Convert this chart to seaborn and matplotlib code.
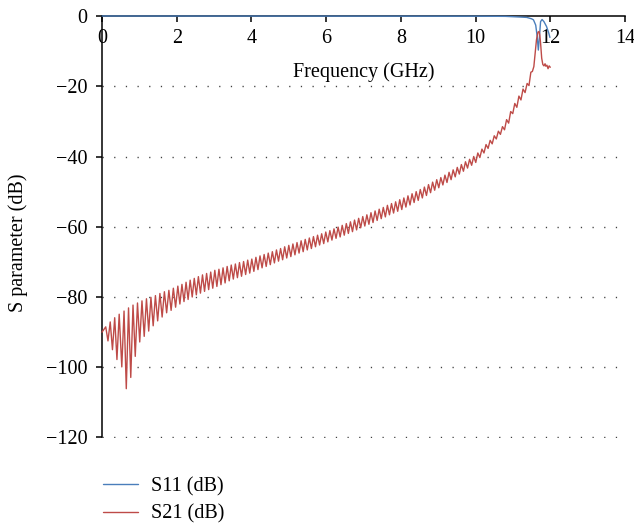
import numpy as np
import pandas as pd
import matplotlib
matplotlib.use("Agg")
import matplotlib.pyplot as plt
import seaborn as sns

# ---------------- data ----------------
s11_freq = [0.0, 10.0, 10.8, 11.0, 11.2, 11.37, 11.5, 11.55, 11.61, 11.65, 11.68,
            11.71, 11.74, 11.78, 11.83, 11.9, 11.96, 11.99]
s11_db = [0.0, -0.05, -0.1, -0.2, -0.3, -0.4, -0.8, -1.1, -2.6, -5.9, -9.7,
          -5.9, -1.6, -1.0, -1.6, -3.0, -4.9, -6.1]

s21_freq = [
    0.00, 0.10, 0.16, 0.22, 0.28, 0.34, 0.40, 0.46, 0.53, 0.59, 0.65, 0.71, 0.77,
    0.83, 0.89, 0.95, 1.01, 1.07, 1.13, 1.19, 1.25, 1.31, 1.37, 1.43, 1.49, 1.55,
    1.61, 1.67, 1.73, 1.79, 1.85, 1.91, 1.97,
    2.03, 2.085, 2.14, 2.195, 2.25, 2.305, 2.36, 2.415, 2.47, 2.525,
    2.58, 2.635, 2.69, 2.745, 2.80, 2.855, 2.91, 2.965,
    3.02, 3.075, 3.13, 3.185, 3.24, 3.295, 3.35, 3.405, 3.46, 3.515,
    3.57, 3.625, 3.68, 3.735, 3.79, 3.845, 3.90, 3.955,
    4.01, 4.065, 4.12, 4.175, 4.23, 4.285, 4.34, 4.395, 4.45, 4.505,
    4.56, 4.615, 4.67, 4.725, 4.78, 4.835, 4.89, 4.945,
    5.00, 5.055, 5.11, 5.165, 5.22, 5.275, 5.33, 5.385, 5.44, 5.495,
    5.55, 5.605, 5.66, 5.715, 5.77, 5.825, 5.88, 5.935,
    5.99, 6.045, 6.10, 6.155, 6.21, 6.265, 6.32, 6.375, 6.43, 6.485,
    6.54, 6.595, 6.65, 6.705, 6.76, 6.815, 6.87, 6.925, 6.98, 7.035,
    7.09, 7.145, 7.20, 7.255, 7.31, 7.365, 7.42, 7.475,
    7.53, 7.585, 7.64, 7.695, 7.75, 7.805, 7.86, 7.915, 7.97, 8.025,
    8.08, 8.135, 8.19, 8.245, 8.30, 8.355, 8.41, 8.465,
    8.52, 8.575, 8.63, 8.685, 8.74, 8.795, 8.85, 8.905, 8.96, 9.015,
    9.07, 9.125, 9.18, 9.235, 9.29, 9.345, 9.40, 9.455,
    9.51, 9.565, 9.62, 9.675, 9.73, 9.785, 9.84, 9.895, 9.95, 10.005,
    10.06, 10.115, 10.17, 10.225, 10.28, 10.335, 10.39, 10.445,
    10.50, 10.555, 10.61, 10.665, 10.72, 10.775,
    10.83, 10.885, 10.94, 10.995,
    11.05, 11.105, 11.16, 11.215, 11.27, 11.325,
    11.38, 11.43, 11.48, 11.52, 11.56, 11.60, 11.63, 11.67, 11.70, 11.72, 11.74,
    11.77, 11.80, 11.83, 11.86, 11.88, 11.91, 11.94, 11.97, 12.00,
]
s21_db = [
    -90.0, -88.5, -92.5, -87.1, -95.0, -85.9, -97.8, -84.9, -99.9, -84.0, -106.1, -83.1, -102.9,
    -82.3, -96.9, -81.7, -92.8, -81.1, -91.2, -80.5, -89.7, -80.1, -88.2, -79.6, -86.8, -79.0,
    -85.7, -78.5, -84.5, -78.1, -83.8, -77.5, -82.9,
    -76.9, -82.0, -76.4, -81.3, -75.8, -80.7, -75.2, -80.0, -74.7, -79.4,
    -74.2, -78.9, -73.7, -78.4, -73.3, -77.9, -72.9, -77.5,
    -72.4, -77.0, -72.1, -76.5, -71.7, -76.0, -71.3, -75.4, -70.9, -74.9,
    -70.6, -74.5, -70.2, -74.1, -69.9, -73.6, -69.5, -73.2,
    -69.2, -72.7, -68.7, -72.2, -68.3, -71.7, -67.9, -71.3, -67.5, -70.8,
    -67.1, -70.3, -66.6, -69.8, -66.2, -69.4, -65.7, -68.9,
    -65.3, -68.5, -64.9, -68.0, -64.5, -67.5, -64.0, -67.1, -63.6, -66.6,
    -63.2, -66.2, -62.8, -65.7, -62.4, -65.2, -62.0, -64.8,
    -61.5, -64.3, -61.1, -63.8, -60.6, -63.3, -60.1, -62.9, -59.6, -62.4,
    -59.1, -61.9, -58.6, -61.4, -58.1, -60.9, -57.6, -60.3, -57.1, -59.8,
    -56.6, -59.3, -56.0, -58.8, -55.5, -58.2, -55.0, -57.7,
    -54.5, -57.2, -53.9, -56.6, -53.4, -56.1, -52.9, -55.6, -52.3, -55.1,
    -51.8, -54.4, -51.2, -53.8, -50.6, -53.1, -50.0, -52.5,
    -49.4, -51.8, -48.7, -51.1, -48.0, -50.3, -47.3, -49.6, -46.6, -48.9,
    -46.0, -48.1, -45.3, -47.4, -44.5, -46.6, -43.8, -45.8,
    -43.1, -45.0, -42.3, -44.2, -41.5, -43.3, -40.8, -42.5, -40.0, -41.7,
    -39.0, -40.3, -37.9, -39.0, -36.6, -37.7, -35.4, -36.4,
    -34.1, -35.0, -32.8, -33.7, -31.5, -32.4,
    -29.5, -30.5, -27.2, -27.8,
    -24.9, -26.0, -22.8, -23.9, -20.8, -21.8,
    -19.2, -19.8, -16.0, -15.8, -14.4, -10.0, -6.8, -4.6, -4.4, -5.5, -7.7,
    -12.0, -13.8, -14.2, -13.6, -14.3, -14.0, -15.0, -14.2, -14.6,
]

x_ticks = [0, 2, 4, 6, 8, 10, 12, 14]
y_ticks = [-120, -100, -80, -60, -40, -20, 0]
series_names = ["S11 (dB)", "S21 (dB)"]
series_colors = ["#4a7ebb", "#be4b48"]

df = pd.concat([
    pd.DataFrame({"freq": s11_freq, "db": s11_db, "series": series_names[0]}),
    pd.DataFrame({"freq": s21_freq, "db": s21_db, "series": series_names[1]}),
], ignore_index=True)

# ---------------- style ----------------
sns.set_theme(style="white")
plt.rcParams["font.family"] = ["Liberation Serif", "DejaVu Serif"]
plt.rcParams["axes.unicode_minus"] = True
plt.rcParams["text.color"] = "black"
plt.rcParams["axes.labelcolor"] = "black"
FS = 14.5

W, H = 634, 527
fig = plt.figure(figsize=(W / 100, H / 100), dpi=100)
ax = fig.add_axes([102 / W, 1 - 437.5 / H, 523 / W, 421.5 / H])

sns.lineplot(data=df, x="freq", y="db", hue="series", palette=series_colors,
             hue_order=series_names, estimator=None, sort=False, ax=ax,
             linewidth=1.0, legend=True)
for ln in ax.lines:
    ln.set_clip_on(False)
    ln.set_zorder(3)

ax.set_xlim(0, 14)
ax.set_ylim(-120, 0)
ax.set_xticks(x_ticks)
ax.set_yticks(y_ticks)
ax.set_xticklabels([str(v) for v in x_ticks])
ax.set_yticklabels([("\u2212" + str(-v)) if v < 0 else str(v) for v in y_ticks])

for s in ["right", "top"]:
    ax.spines[s].set_visible(False)
ax.spines["bottom"].set_position(("data", 0))
for s in ["left", "bottom"]:
    ax.spines[s].set_color("black")
    ax.spines[s].set_linewidth(1.1)
    ax.spines[s].set_zorder(2.5)

ax.tick_params(axis="both", which="major", direction="out", length=4.5, width=1.1,
               color="black", labelsize=FS, labelcolor="black")
ax.tick_params(axis="x", pad=5)
ax.tick_params(axis="y", pad=6)
ax.tick_params(axis="x", bottom=True)
ax.tick_params(axis="y", left=True)

# dotted horizontal grid
for v in y_ticks[:-1]:
    ax.axhline(v, color="#404040", linewidth=1.0, linestyle=(0, (0.9, 7.5)), zorder=1)

ax.set_xlabel("Frequency (GHz)", fontsize=FS, color="black")
ax.xaxis.set_label_coords(0.5, 1 - (72.5 - 16) / 421.5)
ax.xaxis.label.set_va("center")
ax.set_ylabel("S parameter (dB)", fontsize=FS, color="black")
ax.yaxis.set_label_coords((18 - 102) / 523, 1 - (243 - 16) / 421.5)
ax.yaxis.label.set_va("center")

handles, labels = ax.get_legend_handles_labels()
leg = ax.legend(handles, labels, loc="upper left",
                bbox_to_anchor=(102.7 / W, 1 - 477 / H), bbox_transform=fig.transFigure,
                frameon=False, fontsize=FS, handlelength=1.75, handletextpad=0.65,
                labelspacing=0.42, borderpad=0, borderaxespad=0)
for t in leg.get_texts():
    t.set_color("black")

fig.savefig("out.png", dpi=100)
